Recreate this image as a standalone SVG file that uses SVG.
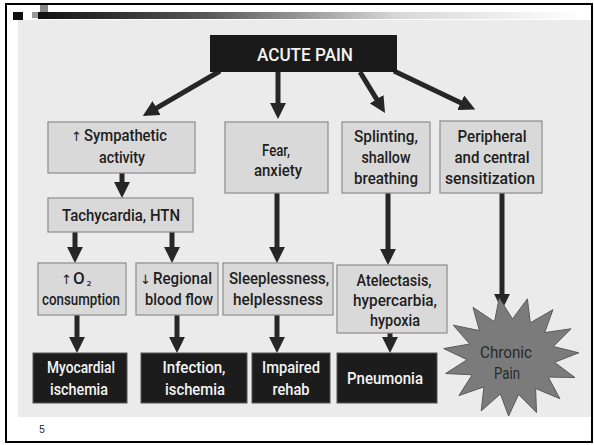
<svg xmlns="http://www.w3.org/2000/svg" width="594" height="445" viewBox="0 0 594 445">
<defs>
<linearGradient id="bar" x1="0" y1="0" x2="1" y2="0">
<stop offset="0" stop-color="#111"/>
<stop offset="0.3" stop-color="#555"/>
<stop offset="0.66" stop-color="#d8d8d8"/>
<stop offset="1" stop-color="#fff"/>
</linearGradient>
<marker id="ah" viewBox="0 0 10 10" markerWidth="3.2" markerHeight="3.2" refX="1" refY="5" orient="auto" markerUnits="strokeWidth">
<path d="M0,0 L10,5 L0,10 Z" fill="#262626"/>
</marker>
<style>
.lb{fill:#d9d9d9;stroke:#8c8c8c;stroke-width:1.2}
.db{fill:#1c1c1c;stroke:#555;stroke-width:1}
.t,.w{font-family:Roboto,"Liberation Sans",Arial,sans-serif;font-weight:500;font-size:17px;text-anchor:middle}
.t{fill:#1e1e1e}
.w{fill:#f4f4f4}
.s{text-anchor:start}
.sym{font-family:"DejaVu Sans","Liberation Sans",sans-serif;font-weight:400;font-size:13px;fill:#1e1e1e}
.ar{stroke:#262626;stroke-width:5;fill:none;marker-end:url(#ah)}
</style>
</defs>
<rect x="0" y="0" width="594" height="445" fill="#fff"/>
<rect x="18" y="20" width="574" height="397" fill="#ebebeb"/>
<rect x="6" y="4" width="586" height="438" fill="none" stroke="#000" stroke-width="2"/>
<rect x="38" y="12" width="546" height="7" fill="url(#bar)"/>
<rect x="13" y="12" width="10" height="8" fill="#111"/>
<rect x="32" y="12" width="6" height="6" fill="#999"/>
<rect x="40" y="5" width="8" height="7" fill="#888"/>
<text x="42" y="433" font-family="Liberation Sans,Arial,sans-serif" font-size="10" fill="#222" text-anchor="middle">5</text>

<g id="connectors">
<line class="ar" x1="220" y1="71" x2="155.2" y2="108.8"/>
<line class="ar" x1="278" y1="72" x2="278" y2="104.5"/>
<line class="ar" x1="360" y1="72" x2="377.5" y2="100.6"/>
<line class="ar" x1="394" y1="71" x2="462.2" y2="103.4"/>
<line class="ar" x1="122" y1="173" x2="122" y2="183.5"/>
<line class="ar" x1="75" y1="232" x2="75" y2="248.5"/>
<line class="ar" x1="172" y1="232" x2="172" y2="248.5"/>
<line class="ar" x1="277" y1="193" x2="277" y2="248.5"/>
<line class="ar" x1="388" y1="193" x2="388" y2="250.5"/>
<line class="ar" x1="502" y1="193" x2="502" y2="295.5"/>
<line class="ar" x1="77" y1="315" x2="77" y2="338.5"/>
<line class="ar" x1="177" y1="315" x2="177" y2="338.5"/>
<line class="ar" x1="277" y1="315" x2="277" y2="338.5"/>
<line class="ar" x1="390" y1="333" x2="390" y2="338.5"/>
</g>

<g id="acute-pain">
<rect x="210" y="35" width="187" height="37" fill="#1a1a1a"/>
<text x="305" y="61" font-family="Roboto,Liberation Sans,Arial,sans-serif" font-weight="500" font-size="19" fill="#f4f4f4" text-anchor="middle" textLength="96" lengthAdjust="spacingAndGlyphs">ACUTE PAIN</text>
</g>

<g id="sympathetic">
<rect class="lb" x="48" y="122" width="147" height="51"/>
<text class="sym" x="71" y="141">↑</text>
<text class="t s" x="84" y="141" textLength="83" lengthAdjust="spacingAndGlyphs">Sympathetic</text>
<text class="t" x="122" y="163" textLength="46" lengthAdjust="spacingAndGlyphs">activity</text>
</g>
<g id="fear">
<rect class="lb" x="225" y="122" width="103" height="71"/>
<text class="t" x="276" y="156" textLength="28" lengthAdjust="spacingAndGlyphs">Fear,</text>
<text class="t" x="278" y="176" textLength="48" lengthAdjust="spacingAndGlyphs">anxiety</text>
</g>
<g id="splinting">
<rect class="lb" x="342" y="122" width="88" height="71"/>
<text class="t" x="386" y="142" textLength="64" lengthAdjust="spacingAndGlyphs">Splinting,</text>
<text class="t" x="386" y="163" textLength="49" lengthAdjust="spacingAndGlyphs">shallow</text>
<text class="t" x="386" y="184" textLength="64" lengthAdjust="spacingAndGlyphs">breathing</text>
</g>
<g id="peripheral">
<rect class="lb" x="440" y="121" width="102" height="72"/>
<text class="t" x="492" y="142" textLength="69" lengthAdjust="spacingAndGlyphs">Peripheral</text>
<text class="t" x="492" y="163" textLength="75" lengthAdjust="spacingAndGlyphs">and central</text>
<text class="t" x="490" y="184" textLength="90" lengthAdjust="spacingAndGlyphs">sensitization</text>
</g>
<g id="tachycardia">
<rect class="lb" x="48" y="198" width="145" height="34"/>
<text class="t" x="121" y="221" textLength="118" lengthAdjust="spacingAndGlyphs">Tachycardia, HTN</text>
</g>
<g id="o2">
<rect class="lb" x="38" y="263" width="88" height="52"/>
<text class="sym" x="61" y="284">↑</text>
<text class="t s" x="73" y="284">O</text>
<text class="sym" x="86.5" y="286" font-size="12">₂</text>
<text class="t" x="81" y="305" textLength="78" lengthAdjust="spacingAndGlyphs">consumption</text>
</g>
<g id="regional">
<rect class="lb" x="136" y="263" width="82" height="52"/>
<text class="sym" x="140" y="284">↓</text>
<text class="t s" x="153" y="284" textLength="59" lengthAdjust="spacingAndGlyphs">Regional</text>
<text class="t" x="179" y="305" textLength="68" lengthAdjust="spacingAndGlyphs">blood flow</text>
</g>
<g id="sleeplessness">
<rect class="lb" x="223" y="263" width="110" height="52"/>
<text class="t" x="279" y="284" textLength="100" lengthAdjust="spacingAndGlyphs">Sleeplessness,</text>
<text class="t" x="278" y="305" textLength="90" lengthAdjust="spacingAndGlyphs">helplessness</text>
</g>
<g id="atelectasis">
<rect class="lb" x="337" y="265" width="110" height="68"/>
<text class="t" x="394" y="286" textLength="75" lengthAdjust="spacingAndGlyphs">Atelectasis,</text>
<text class="t" x="395" y="306" textLength="84" lengthAdjust="spacingAndGlyphs">hypercarbia,</text>
<text class="t" x="395" y="326" textLength="50" lengthAdjust="spacingAndGlyphs">hypoxia</text>
</g>
<g id="myocardial">
<rect class="db" x="33" y="353" width="94" height="50"/>
<text class="w" x="81" y="373" textLength="68" lengthAdjust="spacingAndGlyphs">Myocardial</text>
<text class="w" x="79" y="395" textLength="58" lengthAdjust="spacingAndGlyphs">ischemia</text>
</g>
<g id="infection">
<rect class="db" x="141" y="353" width="106" height="50"/>
<text class="w" x="194" y="373" textLength="63" lengthAdjust="spacingAndGlyphs">Infection,</text>
<text class="w" x="195" y="395" textLength="60" lengthAdjust="spacingAndGlyphs">ischemia</text>
</g>
<g id="impaired">
<rect class="db" x="252" y="353" width="78" height="50"/>
<text class="w" x="291" y="373" textLength="58" lengthAdjust="spacingAndGlyphs">Impaired</text>
<text class="w" x="291" y="395" textLength="37" lengthAdjust="spacingAndGlyphs">rehab</text>
</g>
<g id="pneumonia">
<rect class="db" x="337" y="353" width="100" height="50"/>
<text class="w" x="385" y="384" textLength="76" lengthAdjust="spacingAndGlyphs">Pneumonia</text>
</g>
<g id="chronic-pain">
<polygon points="499.2,297.9 512.5,319 527.4,298.8 530.3,322.8 552.9,309.7 544.7,332.6 571,328.8 553.3,346.5 578.8,352.8 554.6,362.3 574.9,377.5 548.3,377.1 559.9,398.7 535.6,388.5 536.5,412.6 518.6,394.4 508.6,416 500.4,393.9 481.2,410.9 483.9,386.9 458.9,395.6 472.2,374.8 445.6,373.5 467.1,359.7 443.7,348.6 469.7,344 453.3,325.2 479.4,330.6 473,307.3 494.5,321.8" fill="#7b7b7b" stroke="#5a5a5a" stroke-width="1"/>
<text x="506" y="358" font-family="Roboto,Liberation Sans,Arial,sans-serif" font-size="17" fill="#2a2a2a" text-anchor="middle" textLength="52" lengthAdjust="spacingAndGlyphs">Chronic</text>
<text x="507" y="379" font-family="Roboto,Liberation Sans,Arial,sans-serif" font-size="17" fill="#2a2a2a" text-anchor="middle" textLength="26" lengthAdjust="spacingAndGlyphs">Pain</text>
</g>
</svg>
